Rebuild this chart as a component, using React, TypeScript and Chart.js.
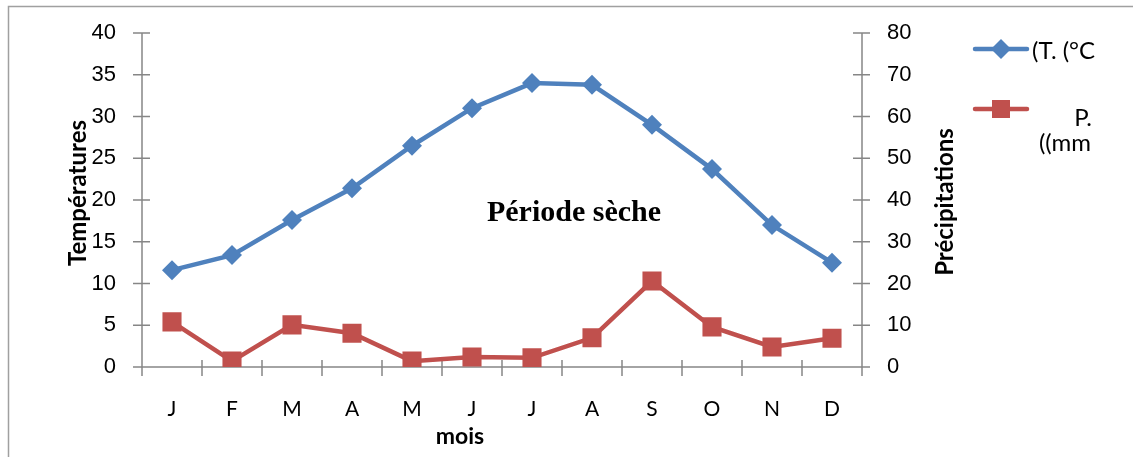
import React, { useEffect, useRef } from "react";
import { Chart, registerables } from "chart.js";

Chart.register(...registerables);

const months = ["J", "F", "M", "A", "M", "J", "J", "A", "S", "O", "N", "D"];
const temperatures = [11.6, 13.4, 17.6, 21.4, 26.5, 31.0, 34.0, 33.8, 29.0, 23.7, 17.0, 12.5];
const precipitations = [10.8, 1.4, 10.1, 8.1, 1.4, 2.4, 2.2, 7.0, 20.6, 9.6, 4.8, 6.9];
const tempLabel = "(T. (°C";
const precipLabelLines = ["P.", "((mm"];
const leftTitle = "Températures";
const rightTitle = "Précipitations";
const xTitle = "mois";
const annotation = "Période sèche";

const BLUE = "#4F81BD";
const RED = "#C0504D";
const AXIS = "#868686";
const CAL = "Lato, 'Noto Sans', sans-serif";
const ARIAL = "'Liberation Sans', Arial, sans-serif";

const decorPlugin = {
  id: "decor",
  beforeDatasetsDraw(chart: any) {
    const ctx = chart.ctx;
    const { left, right, top, bottom } = chart.chartArea;
    const y = chart.scales.y;
    const y1 = chart.scales.y1;
    ctx.save();
    // frame
    ctx.strokeStyle = "#a0a0a0";
    ctx.lineWidth = 1.5;
    ctx.beginPath();
    ctx.moveTo(8.5, 457);
    ctx.lineTo(8.5, 6.5);
    ctx.lineTo(1133, 6.5);
    ctx.stroke();
    // axes
    ctx.strokeStyle = AXIS;
    ctx.lineWidth = 1.5;
    ctx.beginPath();
    ctx.moveTo(left, top);
    ctx.lineTo(left, bottom + 9);
    ctx.moveTo(right, top);
    ctx.lineTo(right, bottom + 9);
    ctx.moveTo(left - 9, bottom);
    ctx.lineTo(right + 8, bottom);
    y.ticks.forEach((t: any) => {
      const py = y.getPixelForValue(t.value);
      ctx.moveTo(left - 9, py);
      ctx.lineTo(left + 8, py);
    });
    y1.ticks.forEach((t: any) => {
      const py = y1.getPixelForValue(t.value);
      ctx.moveTo(right - 9, py);
      ctx.lineTo(right + 8, py);
    });
    const n = months.length;
    const step = (right - left) / n;
    for (let i = 0; i <= n; i++) {
      const px = left + i * step;
      ctx.moveTo(px, bottom - 7);
      ctx.lineTo(px, bottom + 9);
    }
    ctx.stroke();
    ctx.restore();
  },
  afterDraw(chart: any) {
    const ctx = chart.ctx;
    ctx.save();
    ctx.fillStyle = "#000";
    // axis titles
    ctx.font = `bold 24px ${CAL}`;
    ctx.textAlign = "center";
    ctx.textBaseline = "middle";
    ctx.save();
    ctx.translate(78, 193);
    ctx.rotate(-Math.PI / 2);
    ctx.fillText(leftTitle, 0, 0);
    ctx.restore();
    ctx.save();
    ctx.translate(945, 202);
    ctx.rotate(-Math.PI / 2);
    ctx.fillText(rightTitle, 0, 0);
    ctx.restore();
    ctx.font = `bold 23px ${CAL}`;
    ctx.fillText(xTitle, 460, 437);
    // annotation
    ctx.font = `bold 30px 'Liberation Serif', 'Times New Roman', serif`;
    ctx.fillText(annotation, 574, 213);
    // legend
    ctx.lineCap = "round";
    ctx.lineWidth = 4.5;
    ctx.strokeStyle = BLUE;
    ctx.beginPath();
    ctx.moveTo(975, 49);
    ctx.lineTo(1027, 49);
    ctx.stroke();
    ctx.fillStyle = BLUE;
    ctx.beginPath();
    ctx.moveTo(1001, 39);
    ctx.lineTo(1011, 49);
    ctx.lineTo(1001, 59);
    ctx.lineTo(991, 49);
    ctx.closePath();
    ctx.fill();
    ctx.strokeStyle = RED;
    ctx.beginPath();
    ctx.moveTo(975, 109);
    ctx.lineTo(1027, 109);
    ctx.stroke();
    ctx.fillStyle = RED;
    ctx.fillRect(992, 100, 18, 18);
    ctx.fillStyle = "#000";
    ctx.font = `24px ${CAL}`;
    ctx.textAlign = "left";
    ctx.fillText(tempLabel, 1032, 51);
    ctx.textAlign = "right";
    ctx.fillText(precipLabelLines[0], 1092, 118);
    ctx.fillText(precipLabelLines[1], 1091, 143);
    ctx.restore();
  },
};

export default function App() {
  const ref = useRef<HTMLCanvasElement | null>(null);
  useEffect(() => {
    if (!ref.current) return;
    const chart = new Chart(ref.current, {
      type: "line",
      data: {
        labels: months,
        datasets: [
          {
            label: tempLabel,
            data: temperatures,
            yAxisID: "y",
            borderColor: BLUE,
            backgroundColor: BLUE,
            borderWidth: 4.5,
            pointStyle: "rectRot",
            pointRadius: 10,
            pointBorderWidth: 0,
            tension: 0,
          },
          {
            label: precipLabelLines.join(" "),
            data: precipitations,
            yAxisID: "y1",
            borderColor: RED,
            backgroundColor: RED,
            borderWidth: 4.5,
            pointStyle: "rect",
            pointRadius: 13.5,
            pointBorderWidth: 0,
            tension: 0,
          },
        ],
      },
      options: {
        responsive: false,
        animation: false,
        events: [],
        layout: { autoPadding: false, padding: { top: 33, left: 0, right: 0, bottom: 0 } },
        plugins: { legend: { display: false }, tooltip: { enabled: false } },
        scales: {
          x: {
            type: "category",
            offset: true,
            grid: { display: false, drawTicks: false },
            border: { display: false },
            ticks: {
              color: "#000",
              font: { family: CAL, size: 21 },
              padding: 30,
              maxRotation: 0,
              autoSkip: false,
            },
            afterFit(s: any) {
              s.height = 90;
              s.paddingLeft = 0;
              s.paddingRight = 0;
            },
          },
          y: {
            position: "left",
            min: 0,
            max: 40,
            grid: { display: false, drawTicks: false },
            border: { display: false },
            ticks: {
              stepSize: 5,
              color: "#000",
              font: { family: ARIAL, size: 22 },
              padding: 26,
            },
            afterFit(s: any) {
              s.width = 142;
              s.paddingTop = 0;
              s.paddingBottom = 0;
            },
          },
          y1: {
            position: "right",
            min: 0,
            max: 80,
            grid: { display: false, drawTicks: false },
            border: { display: false },
            ticks: {
              stepSize: 10,
              color: "#000",
              font: { family: ARIAL, size: 22 },
              padding: 25,
            },
            afterFit(s: any) {
              s.width = 271;
              s.paddingTop = 0;
              s.paddingBottom = 0;
            },
          },
        },
      },
      plugins: [decorPlugin],
    } as any);
    return () => chart.destroy();
  }, []);
  return (
    <div style={{ position: "absolute", left: 0, top: 0, width: 1133, height: 457, background: "#fff" }}>
      <canvas ref={ref} width={1133} height={457} style={{ width: 1133, height: 457, display: "block" }} />
    </div>
  );
}
